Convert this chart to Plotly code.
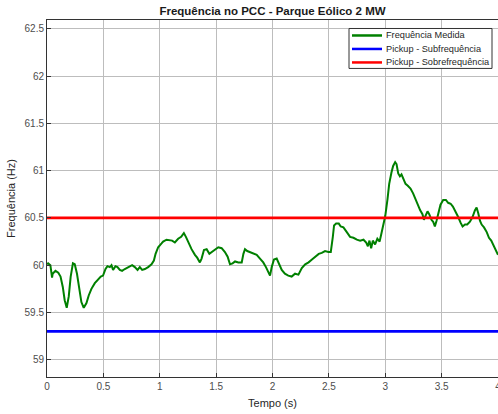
import plotly.graph_objects as go

time_s = [0.0, 0.01, 0.03, 0.045, 0.05, 0.075, 0.1, 0.12, 0.14, 0.157, 0.175, 0.193, 0.21, 0.23, 0.246,
          0.266, 0.284, 0.305, 0.326, 0.35, 0.37, 0.394, 0.424, 0.453, 0.477, 0.497, 0.519, 0.536, 0.557,
          0.572, 0.586, 0.607, 0.625, 0.646, 0.666, 0.69, 0.72, 0.755, 0.779, 0.803, 0.823, 0.844, 0.868,
          0.897, 0.927, 0.948, 0.963, 0.986, 1.016, 1.03, 1.06, 1.09, 1.11, 1.134, 1.163, 1.19, 1.214,
          1.232, 1.252, 1.282, 1.312, 1.332, 1.356, 1.371, 1.392, 1.416, 1.44, 1.46, 1.49, 1.519, 1.549,
          1.578, 1.602, 1.623, 1.646, 1.668, 1.697, 1.727, 1.742, 1.756, 1.776, 1.8, 1.83, 1.86, 1.889,
          1.918, 1.942, 1.963, 1.978, 1.993, 2.013, 2.037, 2.06, 2.082, 2.11, 2.14, 2.17, 2.2, 2.23, 2.26,
          2.29, 2.32, 2.35, 2.38, 2.41, 2.437, 2.466, 2.496, 2.517, 2.535, 2.546, 2.564, 2.588, 2.605,
          2.629, 2.659, 2.688, 2.718, 2.748, 2.777, 2.807, 2.831, 2.846, 2.86, 2.875, 2.89, 2.91, 2.93,
          2.95, 2.965, 2.985, 3.0, 3.02, 3.035, 3.055, 3.07, 3.088, 3.1, 3.115, 3.13, 3.144, 3.165, 3.18,
          3.2, 3.224, 3.247, 3.27, 3.29, 3.31, 3.33, 3.343, 3.36, 3.375, 3.39, 3.41, 3.425, 3.44, 3.455,
          3.47, 3.49, 3.514, 3.538, 3.558, 3.58, 3.6, 3.627, 3.647, 3.668, 3.686, 3.707, 3.727, 3.751,
          3.774, 3.795, 3.81, 3.825, 3.84, 3.855, 3.876, 3.9, 3.92, 3.94, 3.96, 3.98, 4.0]
freq_hz = [60.01, 60.02, 60.0, 59.87, 59.91, 59.94, 59.92, 59.88, 59.77, 59.63, 59.55, 59.67, 59.88, 60.02,
           60.01, 59.91, 59.77, 59.61, 59.55, 59.6, 59.68, 59.75, 59.81, 59.85, 59.88, 59.89, 59.96, 59.99,
           59.98, 60.0, 59.95, 59.99, 59.98, 59.95, 59.94, 59.96, 59.98, 60.0, 59.98, 59.95, 59.98, 59.95,
           59.96, 59.98, 60.01, 60.05, 60.12, 60.19, 60.23, 60.25, 60.27, 60.26, 60.26, 60.24, 60.28, 60.3,
           60.34, 60.3, 60.24, 60.17, 60.11, 60.08, 60.03, 60.07, 60.16, 60.17, 60.12, 60.14, 60.16, 60.19,
           60.18, 60.14, 60.09, 60.01, 60.02, 60.04, 60.03, 60.03, 60.12, 60.17, 60.15, 60.14, 60.12, 60.11,
           60.07, 60.03, 59.98, 59.93, 59.89, 59.98, 60.06, 60.07, 60.01, 59.95, 59.91, 59.89, 59.88, 59.91,
           59.9, 59.97, 60.01, 60.03, 60.06, 60.09, 60.12, 60.13, 60.15, 60.14, 60.14, 60.3, 60.42, 60.44,
           60.44, 60.41, 60.4, 60.35, 60.3, 60.29, 60.27, 60.26, 60.27, 60.24, 60.2, 60.26, 60.18, 60.26,
           60.22, 60.28, 60.25, 60.33, 60.44, 60.52, 60.7, 60.86, 60.98, 61.05, 61.09, 61.07, 60.97, 60.94,
           60.96, 60.91, 60.86, 60.84, 60.81, 60.76, 60.69, 60.62, 60.58, 60.54, 60.48, 60.53, 60.57, 60.54,
           60.48, 60.46, 60.41, 60.47, 60.56, 60.64, 60.69, 60.69, 60.66, 60.65, 60.62, 60.56, 60.51, 60.45,
           60.41, 60.43, 60.43, 60.46, 60.51, 60.58, 60.61, 60.55, 60.47, 60.43, 60.4, 60.35, 60.29, 60.26,
           60.21, 60.17, 60.11]

pickup_sub = 59.3
pickup_sobre = 60.5
x_limits = [0, 4]
x_ticks = [0, 0.5, 1, 1.5, 2, 2.5, 3, 3.5, 4]
x_tick_labels = ["0", "0.5", "1", "1.5", "2", "2.5", "3", "3.5", "4"]
y_ticks = [59, 59.5, 60, 60.5, 61, 61.5, 62, 62.5]
y_tick_labels = ["59", "59.5", "60", "60.5", "61", "61.5", "62", "62.5"]
series_names = ["Frequência Medida", "Pickup - Subfrequência", "Pickup - Sobrefrequência"]
series_colors = ["#008000", "#0000ff", "#ff0000"]
series_widths = [2, 2.8, 2.8]

W, H = 498, 414
ML, MR, MT, MB = 47, 0, 19.5, 37
PW, PH = W - ML - MR, H - MT - MB

fig = go.Figure()
fig.add_trace(go.Scatter(x=time_s, y=freq_hz, mode="lines", name=series_names[0],
                         line=dict(color=series_colors[0], width=series_widths[0])))
fig.add_trace(go.Scatter(x=x_limits, y=[pickup_sub, pickup_sub], mode="lines",
                         name=series_names[1], line=dict(color=series_colors[1], width=series_widths[1])))
fig.add_trace(go.Scatter(x=x_limits, y=[pickup_sobre, pickup_sobre], mode="lines",
                         name=series_names[2], line=dict(color=series_colors[2], width=series_widths[2])))

# compact MATLAB-style legend box (pixel layout converted to paper coordinates)
def px(xp):
    return (xp - ML) / PW

def py(yp):
    return (H - MB - yp) / PH

shapes = [dict(type="rect", xref="paper", yref="paper", x0=px(349), x1=px(492), y0=py(68), y1=py(28),
               line=dict(color="#333333", width=1), fillcolor="white", layer="above")]
annotations = []
row_y = [35, 48.5, 62]
for name, col, yy in zip(series_names, series_colors, row_y):
    shapes.append(dict(type="line", xref="paper", yref="paper", x0=px(352), x1=px(382),
                       y0=py(yy), y1=py(yy), line=dict(color=col, width=2.5), layer="above"))
    annotations.append(dict(xref="paper", yref="paper", x=px(384), y=py(yy), text=name,
                            showarrow=False, xanchor="left", yanchor="middle",
                            font=dict(size=9.2, color="#262626")))

font_family = "Liberation Sans, Arial, sans-serif"
fig.update_layout(
    width=W, height=H,
    margin=dict(l=ML, r=MR, t=MT, b=MB, autoexpand=False),
    paper_bgcolor="white", plot_bgcolor="white",
    font=dict(family=font_family, size=10, color="#4d4d4d"),
    title=dict(text="<b>Frequência no PCC - Parque Eólico 2 MW</b>", x=px(272.5), xanchor="center",
               xref="paper", y=1 - 10.5 / H, yref="container", yanchor="middle",
               font=dict(size=11.5, color="#1a1a1a")),
    showlegend=False,
    shapes=shapes,
    annotations=annotations,
)
fig.update_xaxes(range=x_limits, tickvals=x_ticks, ticktext=x_tick_labels, automargin=False,
                 ticklabeloverflow="allow",
                 showgrid=True, gridcolor="#bdbdbd", gridwidth=1,
                 showline=True, linecolor="#333333", linewidth=1, mirror=True,
                 ticks="inside", ticklen=4, tickcolor="#333333",
                 zeroline=False, tickfont=dict(size=10, color="#4d4d4d"),
                 title=dict(text="Tempo (s)", font=dict(size=11, color="#262626"), standoff=8))
fig.update_yaxes(range=[58.818, 62.593], tickvals=y_ticks, ticktext=y_tick_labels, automargin=False,
                 showgrid=True, gridcolor="#bdbdbd", gridwidth=1,
                 showline=True, linecolor="#333333", linewidth=1, mirror=True,
                 ticks="inside", ticklen=4, tickcolor="#333333",
                 zeroline=False, tickfont=dict(size=10, color="#4d4d4d"),
                 title=dict(text="Frequência (Hz)", font=dict(size=11, color="#262626"), standoff=6))

fig.write_html("out.html", config={"displayModeBar": False},
               post_script="document.body.style.margin='0px';")
